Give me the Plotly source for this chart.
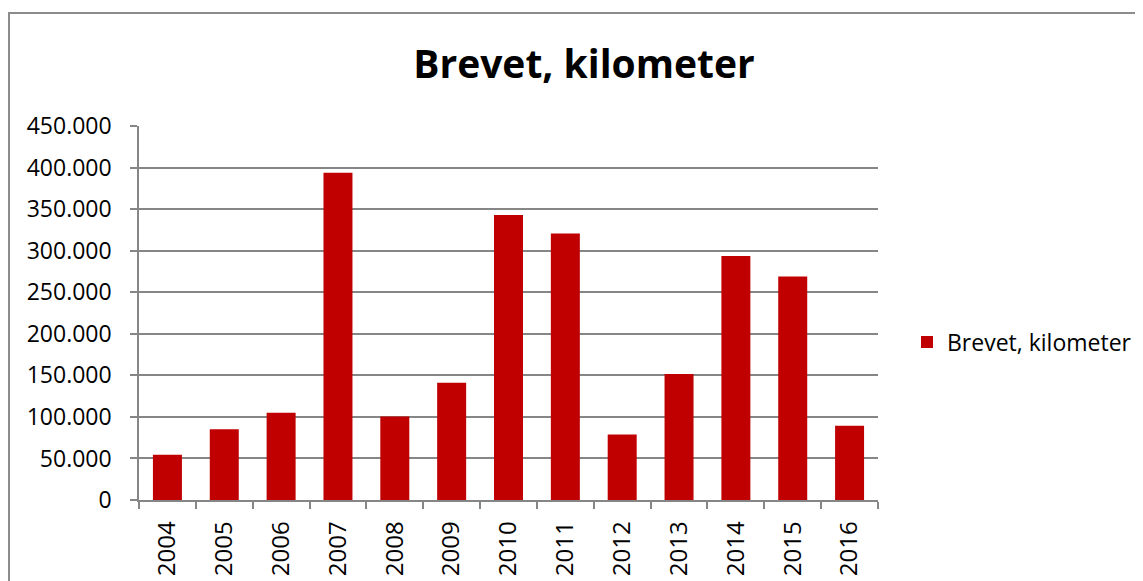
import plotly.graph_objects as go

# Brevet distances per year
years = ['2004', '2005', '2006', '2007', '2008', '2009', '2010',
         '2011', '2012', '2013', '2014', '2015', '2016']
km = [54500, 85200, 105000, 393800, 100500, 141000, 342800,
      320800, 78800, 151500, 293600, 268800, 89300]
y_ticks = [0, 50000, 100000, 150000, 200000, 250000, 300000, 350000, 400000, 450000]

# the page body has an 8px margin, so the figure is drawn 8px in
OFF = 8
W, H = 1143 - OFF, 581 - OFF
L, T = 139 - OFF, 126 - OFF
R = W - (878 - OFF)
B = H - (500 - OFF)
pw, ph = W - L - R, H - T - B

grey = '#868686'
font = "Open Sans, Noto Sans, sans-serif"

fig = go.Figure()
fig.add_trace(go.Bar(
    x=years, y=km, name='Brevet, kilometer',
    marker=dict(color='#C00000', line=dict(width=0)),
))

fig.update_layout(
    width=W, height=H,
    margin=dict(l=L, r=R, t=T, b=B, autoexpand=False),
    paper_bgcolor='white', plot_bgcolor='white',
    separators=',.',
    bargap=0.49,
    font=dict(family=font, size=23, color='black'),
    title=dict(text='<b>Brevet, kilometer</b>', x=(584 - OFF) / W, xanchor='center',
               y=1 - (64 - OFF) / H, yanchor='middle',
               font=dict(family=font, size=39, color='black')),
    showlegend=True,
    legend=dict(x=(907 - OFF - L) / pw, y=(H - B - (342 - OFF)) / ph,
                xanchor='left', yanchor='middle',
                font=dict(family=font, size=23), itemwidth=30, bgcolor='rgba(0,0,0,0)'),
    shapes=[dict(type='rect', xref='paper', yref='paper',
                 x0=(9 - OFF - L) / pw, x1=(W + 20 - L) / pw,
                 y0=-(B + 20) / ph, y1=(H - B - (13 - OFF)) / ph,
                 line=dict(color='#8c8c8c', width=2), fillcolor='rgba(0,0,0,0)',
                 layer='below')],
)

fig.update_xaxes(
    type='category', tickangle=-90, tickson='boundaries',
    ticks='outside', ticklen=7, tickcolor=grey, tickwidth=1.5,
    showline=True, linecolor=grey, linewidth=1.5,
    showgrid=False, ticklabelstandoff=10,
    tickfont=dict(family=font, size=24),
)
fig.update_yaxes(
    range=[0, 450000], tickvals=y_ticks, tickformat=',d',
    ticks='outside', ticklen=7, tickcolor=grey, tickwidth=1.5,
    showline=True, linecolor=grey, linewidth=1.5,
    showgrid=True, gridcolor=grey, gridwidth=1.5,
    zeroline=False, ticklabelstandoff=14,
    tickfont=dict(family=font, size=23),
)

fig.write_html("out.html")
